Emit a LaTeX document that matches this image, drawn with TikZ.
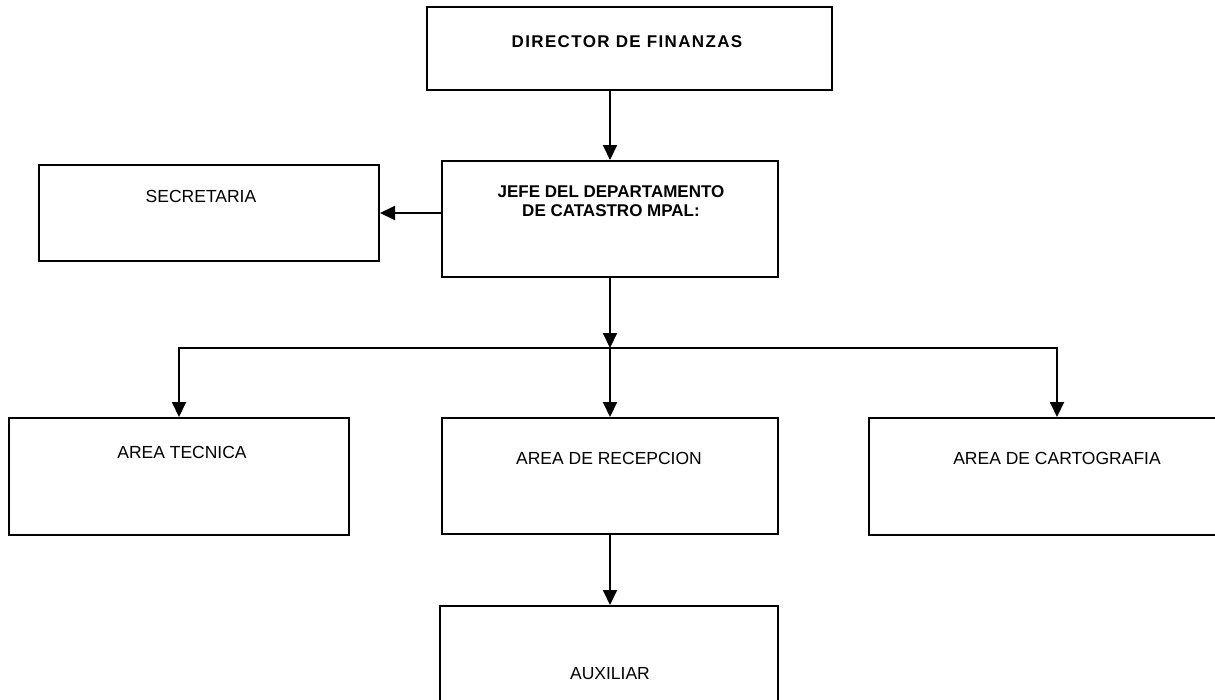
\documentclass[tikz,border=0pt]{standalone}
\usepackage{fontspec}
\setmainfont{Liberation Sans}
\usetikzlibrary{arrows.meta}
\begin{document}
\begin{tikzpicture}[x=1pt,y=-1pt,
  box/.style 2 args={draw, line width=2pt, inner sep=0pt,
    minimum width=#1, minimum height=#2},
  txt/.style={inner sep=0pt, font=\fontsize{17.5}{19}\selectfont},
  btxt/.style={inner sep=0pt, align=center,
    font=\bfseries\fontsize{17}{18.5}\selectfont},
  conn/.style={line width=2pt, -{Triangle[length=15pt,width=14pt]}},
  bus/.style={line width=2pt, line cap=rect}
]
\useasboundingbox (0,0) rectangle (1215,699);
\clip (0,0) rectangle (1215,699);

% organisation boxes
\node[box={405pt}{83pt}]  (dir) at (629.5,48.5) {};
\node[box={336pt}{116pt}] (jefe) at (610,219) {};
\node[box={340pt}{96pt}]  (sec) at (209,213) {};
\node[box={340pt}{117pt}] (tec) at (179,476.5) {};
\node[box={336pt}{116pt}] (rec) at (610,476) {};
\node[box={376pt}{117pt}] (car) at (1057,476.5) {};
\node[box={338pt}{140pt}] (aux) at (609,676) {};

% box titles
\node[btxt] (dirtext) at (627,42)
  {\addfontfeatures{LetterSpace=8}DIRECTOR DE FINANZAS};
\node[btxt] (jefetext) at (611,201)
  {JEFE DEL DEPARTAMENTO\\DE CATASTRO MPAL:};
\node[txt] (sectext) at (201,196) {SECRETARIA};
\node[txt] (tectext) at (182,452) {AREA TECNICA};
\node[txt] (rectext) at (609,458) {AREA DE RECEPCION};
\node[txt] (cartext) at (1057,458) {AREA DE CARTOGRAFIA};
\node[txt] (auxtext) at (610,674) {AUXILIAR};

% connectors
\coordinate (bus) at (610,348);
\draw[conn] (dir.south -| jefe.north) -- (jefe.north);
\draw[conn] (sec.east -| jefe.west) -- (sec.east);
\draw[conn] (jefe.south) -- (jefe.south |- bus);
\draw[bus] (tec.north |- bus) -- (car.north |- bus);
\draw[conn] (tec.north |- bus) -- (tec.north);
\draw[conn] (rec.north |- bus) -- (rec.north);
\draw[conn] (car.north |- bus) -- (car.north);
\draw[conn] (rec.south) -- (rec.south |- aux.north);
\end{tikzpicture}
\end{document}
